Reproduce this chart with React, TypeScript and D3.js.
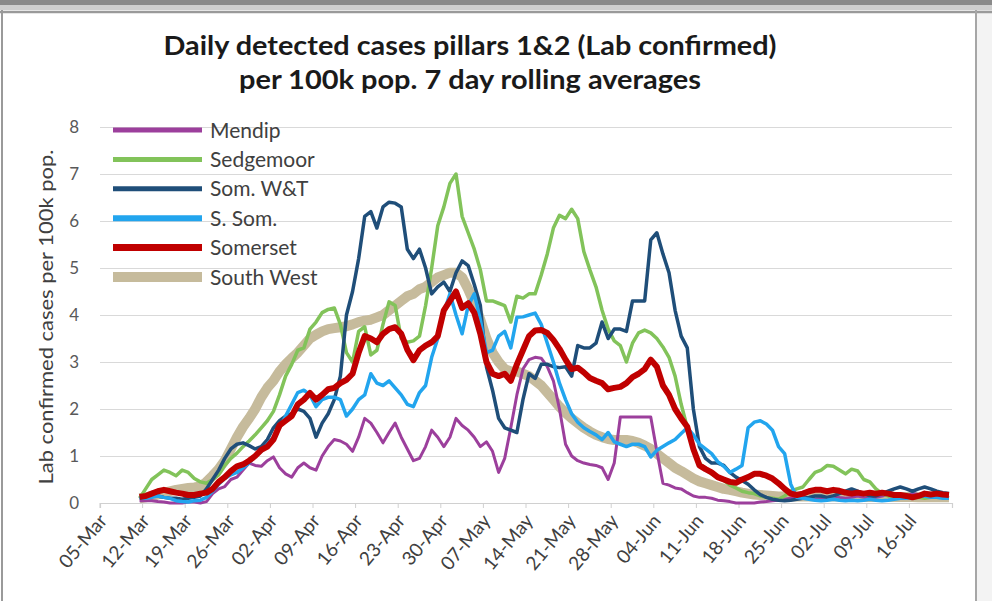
import React, { useEffect, useRef } from 'react';
import * as d3 from 'd3';

const TITLE = ['Daily detected cases pillars 1&2 (Lab confirmed)', 'per 100k pop. 7 day rolling averages'];
const TITLE_WIDTHS = [613, 462];
const Y_LABEL = 'Lab confirmed cases per 100k pop.';

// daily categories 05-Mar .. 22-Jul
const fmt = d3.timeFormat('%d-%b');
const categories = d3.timeDay.range(new Date(2020, 2, 5), new Date(2020, 6, 23)).map(fmt);

const tickLabels = ['05-Mar', '12-Mar', '19-Mar', '26-Mar', '02-Apr', '09-Apr', '16-Apr', '23-Apr', '30-Apr',
  '07-May', '14-May', '21-May', '28-May', '04-Jun', '11-Jun', '18-Jun', '25-Jun', '02-Jul', '09-Jul', '16-Jul'];
const yTicks = [0, 1, 2, 3, 4, 5, 6, 7, 8];

// every series starts on this day
const SERIES_START = '11-Mar';

const mendip = [
  0.05, 0.05, 0.05, 0.03, 0.02, 0, 0, 0, 0.02, 0.02, 0, 0.03,
  0.2, 0.3, 0.35, 0.5, 0.55, 0.7, 0.85, 0.8, 0.78, 0.9, 0.98, 0.75,
  0.62, 0.55, 0.75, 0.85, 0.75, 0.7, 1.0, 1.2, 1.35, 1.32, 1.25, 1.1,
  1.4, 1.8, 1.7, 1.5, 1.28, 1.5, 1.7, 1.4, 1.15, 0.9, 0.95, 1.2,
  1.55, 1.4, 1.2, 1.4, 1.8, 1.65, 1.55, 1.4, 1.2, 1.3, 1.1, 0.65,
  0.95, 1.6, 2.3, 2.85, 3.05, 3.1, 3.08, 2.9, 2.6, 2.0, 1.25, 1.0,
  0.9, 0.85, 0.82, 0.8, 0.75, 0.5, 0.85, 1.83, 1.83, 1.83, 1.83, 1.83,
  1.83, 1.1, 0.42, 0.38, 0.32, 0.3, 0.22, 0.15, 0.12, 0.12, 0.1, 0.06,
  0.05, 0.03, 0, 0, 0, 0, 0.02, 0.03, 0.05, 0.06, 0.08, 0.1,
  0.1, 0.12, 0.1, 0.08, 0.1, 0.12, 0.15, 0.12, 0.1, 0.12, 0.15, 0.12,
  0.1, 0.12, 0.15, 0.18, 0.15, 0.12, 0.15, 0.2, 0.18, 0.15, 0.12, 0.15,
  0.15, 0.12,
];

const sedgemoor = [
  0.1, 0.3, 0.5, 0.6, 0.7, 0.65, 0.58, 0.7, 0.65, 0.52, 0.45, 0.42,
  0.5, 0.6, 0.8, 0.95, 1.06, 1.2, 1.32, 1.45, 1.6, 1.75, 1.95, 2.3,
  2.7, 2.95, 3.25, 3.3, 3.7, 3.85, 4.05, 4.12, 4.15, 3.8, 3.2, 3.0,
  3.65, 3.75, 3.15, 3.25, 3.8, 4.28, 4.2, 3.5, 3.42, 3.45, 3.55, 4.2,
  5.0, 5.9, 6.3, 6.8, 7.0, 6.1, 5.75, 5.4, 4.96, 4.3, 4.3, 4.25,
  4.2, 3.85, 4.4, 4.36, 4.45, 4.45, 4.85, 5.3, 5.85, 6.12, 6.05, 6.25,
  6.05, 5.35, 4.96, 4.6, 4.1, 3.7, 3.45, 3.35, 3.0, 3.4, 3.62, 3.68,
  3.62, 3.5, 3.32, 3.1, 2.7, 2.1, 1.6, 1.15, 0.85, 0.72, 0.62, 0.55,
  0.48, 0.38, 0.32, 0.25, 0.22, 0.2, 0.15, 0.12, 0.1, 0.08, 0.15, 0.25,
  0.3, 0.34, 0.5, 0.65, 0.7, 0.8, 0.78, 0.7, 0.62, 0.72, 0.68, 0.5,
  0.45, 0.3, 0.2, 0.15, 0.12, 0.1, 0.12, 0.1, 0.12, 0.1, 0.12, 0.15,
  0.12, 0.1,
];

const somWT = [
  0.1, 0.12, 0.15, 0.15, 0.12, 0.1, 0.1, 0.08, 0.1, 0.12, 0.15, 0.3,
  0.5, 0.7, 0.95, 1.15, 1.25, 1.28, 1.22, 1.15, 1.2, 1.35, 1.6, 1.75,
  1.85, 1.9, 2.0, 1.95, 1.8, 1.4, 1.7, 1.9, 2.2, 2.7, 4.0, 4.5,
  5.2, 6.1, 6.2, 5.85, 6.3, 6.4, 6.38, 6.3, 5.4, 5.2, 5.4, 5.0,
  4.45, 4.6, 4.7, 4.5, 4.9, 5.15, 5.05, 4.65, 4.2, 2.9, 2.4, 1.8,
  1.6, 1.55, 1.5, 2.2, 2.75, 2.65, 2.95, 2.95, 2.9, 2.88, 2.9, 2.7,
  3.35, 3.3, 3.3, 3.4, 3.85, 3.5, 3.7, 3.7, 3.65, 4.3, 4.3, 4.3,
  5.6, 5.75, 5.3, 4.9, 4.1, 3.55, 3.3, 2.0, 1.2, 0.95, 0.85, 0.85,
  0.8, 0.65, 0.55, 0.48, 0.4, 0.28, 0.18, 0.12, 0.08, 0.06, 0.05, 0.06,
  0.08, 0.1, 0.12, 0.15, 0.15, 0.12, 0.15, 0.2, 0.25, 0.3, 0.25, 0.2,
  0.15, 0.15, 0.2, 0.25, 0.3, 0.34, 0.3, 0.25, 0.3, 0.34, 0.3, 0.25,
  0.22, 0.2,
];

const sSom = [
  0.12, 0.1, 0.12, 0.15, 0.12, 0.1, 0.05, 0.03, 0.02, 0.05, 0.06, 0.12,
  0.25, 0.4, 0.52, 0.6, 0.65, 0.75, 0.85, 1.0, 1.1, 1.25, 1.4, 1.6,
  1.85, 2.1, 2.35, 2.4, 2.3, 2.05, 2.2, 2.25, 2.25, 2.2, 1.85, 2.0,
  2.2, 2.3, 2.75, 2.55, 2.5, 2.6, 2.45, 2.3, 2.1, 2.05, 2.35, 2.5,
  3.1, 3.5, 4.05, 4.45, 4.0, 3.6, 4.2, 4.45, 3.9, 3.2, 3.25, 3.55,
  3.65, 3.3, 3.95, 3.96, 4.0, 4.04, 3.8, 3.4, 3.0, 2.55, 2.2, 1.9,
  1.72, 1.6, 1.52, 1.45, 1.35, 1.5, 1.3, 1.25, 1.2, 1.25, 1.25, 1.2,
  0.98, 1.12, 1.2, 1.28, 1.35, 1.48, 1.6, 1.45, 1.25, 1.15, 1.05, 0.88,
  0.78, 0.65, 0.72, 0.8, 1.6, 1.72, 1.75, 1.68, 1.55, 1.2, 1.05, 0.4,
  0.12, 0.1, 0.08, 0.06, 0.05, 0.06, 0.08, 0.06, 0.05, 0.06, 0.05, 0.06,
  0.08, 0.06, 0.05, 0.06, 0.08, 0.1, 0.1, 0.12, 0.15, 0.15, 0.12, 0.12,
  0.1, 0.1,
];

const somerset = [
  0.13, 0.15, 0.2, 0.25, 0.28, 0.25, 0.22, 0.2, 0.17, 0.17, 0.2, 0.22,
  0.3, 0.45, 0.55, 0.68, 0.78, 0.82, 0.9, 1.0, 1.13, 1.2, 1.35, 1.65,
  1.75, 1.85, 2.1, 2.2, 2.34, 2.2, 2.3, 2.42, 2.45, 2.55, 2.62, 2.75,
  3.2, 3.55, 3.5, 3.42, 3.6, 3.7, 3.74, 3.6, 3.26, 3.04, 3.25, 3.35,
  3.42, 3.55, 4.1, 4.3, 4.5, 4.15, 4.25, 4.05, 3.6, 3.0, 2.75, 2.7,
  2.75, 2.6, 2.95, 3.25, 3.55, 3.67, 3.68, 3.62, 3.47, 3.28, 3.05, 2.85,
  2.88, 2.78, 2.66, 2.6, 2.55, 2.42, 2.45, 2.47, 2.55, 2.68, 2.75, 2.85,
  3.05, 2.9, 2.5, 2.3, 2.0, 1.8, 1.62, 1.15, 0.8, 0.72, 0.65, 0.55,
  0.5, 0.45, 0.43, 0.5, 0.55, 0.62, 0.62, 0.58, 0.52, 0.42, 0.3, 0.2,
  0.17, 0.2, 0.25, 0.28, 0.28, 0.25, 0.28, 0.26, 0.22, 0.2, 0.22, 0.2,
  0.22, 0.2, 0.22, 0.2, 0.17, 0.17, 0.15, 0.12, 0.15, 0.2, 0.18, 0.2,
  0.18, 0.17,
];

const southWest = [
  0.1, 0.12, 0.15, 0.18, 0.22, 0.25, 0.28, 0.3, 0.32, 0.33, 0.35, 0.45,
  0.58, 0.72, 0.9, 1.15, 1.4, 1.62, 1.8, 2.0, 2.25, 2.45, 2.6, 2.8,
  2.95, 3.08, 3.2, 3.35, 3.5, 3.58, 3.65, 3.7, 3.72, 3.74, 3.76, 3.8,
  3.85, 3.88, 3.9, 3.95, 4.0, 4.1, 4.2, 4.3, 4.4, 4.45, 4.55, 4.6,
  4.7, 4.8, 4.85, 4.9, 4.9, 4.8, 4.55, 4.25, 3.9, 3.5, 3.2, 3.0,
  2.85, 2.8, 2.8, 2.75, 2.7, 2.6, 2.5, 2.35, 2.2, 2.05, 1.92, 1.8,
  1.7, 1.6, 1.52, 1.45, 1.4, 1.36, 1.34, 1.34, 1.34, 1.32, 1.28, 1.22,
  1.15, 1.05, 0.95, 0.85, 0.75, 0.68, 0.6, 0.52, 0.46, 0.42, 0.38, 0.34,
  0.3, 0.28, 0.25, 0.22, 0.2, 0.18, 0.17, 0.16, 0.15, 0.14, 0.14, 0.14,
  0.14, 0.14, 0.14, 0.14, 0.14, 0.14, 0.14, 0.14, 0.14, 0.13, 0.13, 0.13,
  0.13, 0.13, 0.13, 0.13, 0.13, 0.13, 0.13, 0.13, 0.12, 0.12, 0.12, 0.12,
  0.12, 0.12,
];

const seriesNames = ['Mendip', 'Sedgemoor', 'Som. W&T', 'S. Som.', 'Somerset', 'South West'];
const seriesValues = [mendip, sedgemoor, somWT, sSom, somerset, southWest];
const seriesColors = ['#9c3f9c', '#82c35a', '#1f4e79', '#22a5ee', '#c00000', '#c6bb9c'];
const seriesWidths = [3, 3.5, 3.5, 3.5, 6, 10];
const legendWidths = [5, 5, 5, 6, 7, 10];
// South West sits underneath, Somerset on top
const drawOrder = [5, 0, 1, 2, 3, 4];

const FONT = 'Lato, "Open Sans", sans-serif';

const App = () => {
  const ref = useRef<SVGSVGElement>(null);

  useEffect(() => {
    const svg = d3.select(ref.current);
    svg.selectAll('*').remove();

    const width = 992;
    const height = 601;
    const margin = { top: 127, right: 40, bottom: 98, left: 100 };

    // page frame
    svg.append('rect').attr('width', width).attr('height', height).attr('fill', '#ffffff');
    svg.append('rect').attr('x', 976).attr('y', 0).attr('width', 16).attr('height', height).attr('fill', '#f3f3f3');
    svg.append('rect').attr('width', width).attr('height', 5).attr('fill', '#8a8a8a');
    svg.append('rect').attr('y', 5).attr('width', width).attr('height', 5).attr('fill', '#cfcfcf');
    svg.append('line').attr('x1', 0).attr('x2', width).attr('y1', 12).attr('y2', 12)
      .attr('stroke', '#9a9a9a').attr('stroke-width', 2.5);
    svg.append('line').attr('x1', 2).attr('x2', 2).attr('y1', 10).attr('y2', height)
      .attr('stroke', '#9a9a9a').attr('stroke-width', 2);
    svg.append('line').attr('x1', 976).attr('x2', 976).attr('y1', 10).attr('y2', height)
      .attr('stroke', '#a6a6a6').attr('stroke-width', 2);

    // title, stretched to the reference width
    svg.append('g')
      .selectAll('text')
      .data(TITLE)
      .enter()
      .append('text')
      .attr('x', 470)
      .attr('y', (d, i) => 55 + i * 34)
      .attr('text-anchor', 'middle')
      .attr('textLength', (d, i) => TITLE_WIDTHS[i])
      .attr('lengthAdjust', 'spacingAndGlyphs')
      .style('font-family', FONT)
      .style('font-weight', 'bold')
      .style('font-size', '26px')
      .attr('fill', '#1a1a1a')
      .text(d => d);

    const xScale = d3.scaleBand<string>()
      .domain(categories)
      .range([margin.left, width - margin.right])
      .padding(0);

    const yScale = d3.scaleLinear()
      .domain([0, 8])
      .range([height - margin.bottom, margin.top]);

    // gridlines
    svg.append('g')
      .attr('transform', `translate(${margin.left}, 0)`)
      .call(d3.axisLeft(yScale).tickValues(yTicks.slice(1)).tickSize(-(width - margin.right - margin.left)).tickFormat(() => ''))
      .call(g => g.select('.domain').remove())
      .call(g => g.selectAll('line').attr('stroke', '#d9d9d9').attr('stroke-width', 1.2));

    // y tick labels
    svg.append('g')
      .selectAll('text')
      .data(yTicks)
      .enter()
      .append('text')
      .attr('x', 79)
      .attr('y', d => yScale(d))
      .attr('dy', '0.35em')
      .attr('text-anchor', 'end')
      .attr('fill', '#595959')
      .style('font-family', FONT)
      .style('font-size', '17px')
      .text(d => d);

    // y axis label
    svg.append('text')
      .attr('transform', 'translate(53, 317) rotate(-90)')
      .attr('text-anchor', 'middle')
      .attr('textLength', 335)
      .attr('lengthAdjust', 'spacingAndGlyphs')
      .attr('fill', '#404040')
      .style('font-family', FONT)
      .style('font-size', '20px')
      .text(Y_LABEL);

    // x axis
    const xAxis = svg.append('g')
      .attr('transform', `translate(0, ${yScale(0)})`)
      .call(d3.axisBottom(xScale).tickValues(tickLabels).tickSize(5).tickFormat(d => d));
    xAxis.select('.domain').attr('stroke', '#d0d0d0').attr('stroke-width', 1.2);
    xAxis.selectAll('.tick')
      .attr('transform', d => `translate(${xScale(d as string)}, 0)`);
    xAxis.selectAll('.tick line').attr('stroke', '#d0d0d0');
    xAxis.selectAll('.tick text')
      .attr('fill', '#404040')
      .style('font-family', FONT)
      .style('font-size', '19px')
      .attr('text-anchor', 'end')
      .attr('dy', '0.35em')
      .attr('transform', 'translate(3, 14) rotate(-50)')
      .attr('y', 0)
      .attr('x', 0);

    // lines
    const offset = categories.indexOf(SERIES_START);
    const line = d3.line<number>()
      .x((d, i) => (xScale(categories[offset + i]) as number) + xScale.bandwidth() / 2)
      .y(d => yScale(d))
      .curve(d3.curveLinear);

    drawOrder.forEach(s => {
      svg.append('path')
        .datum(seriesValues[s])
        .attr('fill', 'none')
        .attr('stroke', seriesColors[s])
        .attr('stroke-width', seriesWidths[s])
        .attr('stroke-linejoin', 'round')
        .attr('d', line);
    });

    // legend
    const legend = svg.append('g').attr('transform', 'translate(113, 130)');
    const rows = legend.selectAll('g')
      .data(seriesNames)
      .enter()
      .append('g')
      .attr('transform', (d, i) => `translate(0, ${i * 29.4})`);
    rows.append('line')
      .attr('x1', 0)
      .attr('x2', 89)
      .attr('stroke', (d, i) => seriesColors[i])
      .attr('stroke-width', (d, i) => legendWidths[i]);
    rows.append('text')
      .attr('x', 97)
      .attr('dy', '0.36em')
      .attr('fill', '#404040')
      .style('font-family', FONT)
      .style('font-size', '21px')
      .text(d => d);
  }, []);

  return (
    <svg
      ref={ref}
      width={992}
      height={601}
      style={{ position: 'absolute', left: 0, top: 0, display: 'block' }}
    />
  );
};

export default App;
